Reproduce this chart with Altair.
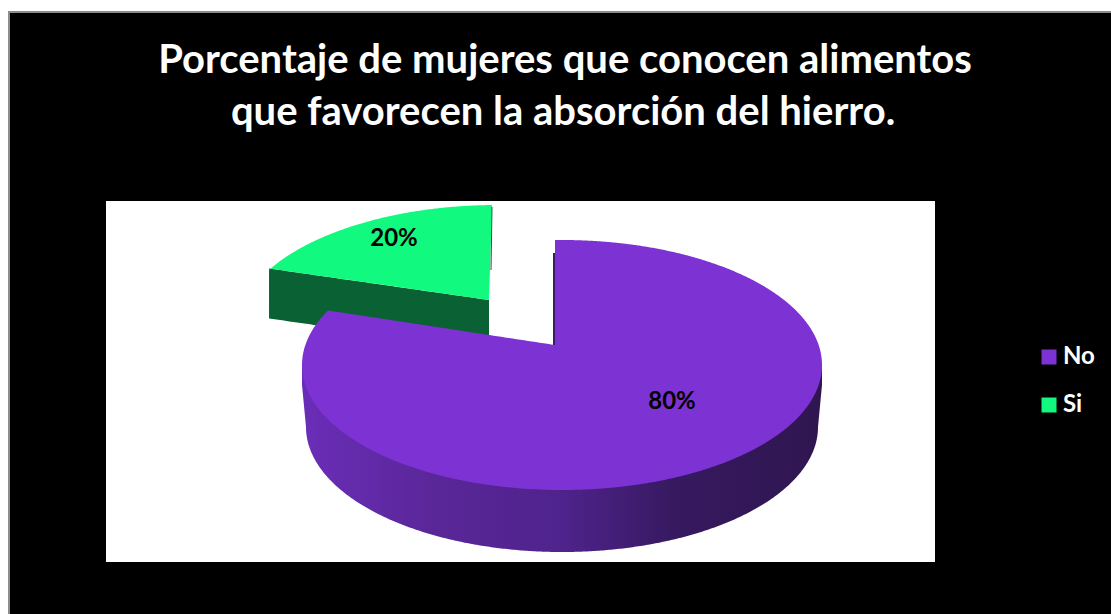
import altair as alt
import numpy as np
import pandas as pd

# Survey result
answers = ["No", "Si"]
shares = [80, 20]
title_lines = [
    "Porcentaje de mujeres que conocen alimentos",
    "que favorecen la absorción del hierro.",
]

W, H = 1111, 614
PURPLE, GREEN = "#7d32d3", "#12f980"
FONT = "Lato"

# Pie geometry: tilted disc with a slightly foreshortened back edge
RX, RY = 260, 125
DEPTH = 62
FORESHORTEN = 0.87
START = np.radians(1.5)


def upper(x, cx, cy):
    return cy - RY * np.sqrt(np.clip(1 - ((x - cx) / RX) ** 2, 0, 1))


def lower(x, cx, cy, rx=RX):
    return cy + RY * np.sqrt(np.clip(1 - ((x - cx) / rx) ** 2, 0, 1))


def sweep(a, b, n=240):
    t = np.linspace(0, np.pi, n)
    return a + (b - a) * (1 - np.cos(t)) / 2


def lerp(x, x0, y0, x1, y1):
    return y0 + (y1 - y0) * (x - x0) / (x1 - x0)


def rim_point(cx, cy, theta):
    return cx - RX * np.sin(theta), cy - RY * np.cos(theta)


def frame(x, y, y2, answer):
    return pd.DataFrame({"x": x, "y": y, "y2": y2, "answer": answer})


# "No" slice: the notch takes the other slice's share out of the disc
no_cx, no_cy, no_ax, no_ay = 562, 365, 555, 345
no_left, no_left_y = rim_point(no_cx, no_cy, START + np.radians(shares[1] * 3.6 * FORESHORTEN))
xs_a = sweep(no_cx - RX, no_left, 40)
xs_b = np.linspace(no_left + 0.01, no_ax, 60)
xs_c = sweep(no_ax + 0.01, no_cx + RX, 320)
no_x = np.concatenate([xs_a, xs_b, xs_c])
no_top = np.concatenate([
    upper(xs_a, no_cx, no_cy),
    lerp(xs_b, no_left, no_left_y, no_ax, no_ay),
    upper(xs_c, no_cx, no_cy),
])
no_face = frame(no_x, no_top, lower(no_x, no_cx, no_cy), answers[0])

# Side wall: slightly narrower lower rim, with short slanted shoulders at both ends
WALL_RX = 256
wall_mid = sweep(no_cx - WALL_RX, no_cx + WALL_RX, 400)
wall_x = np.concatenate([[no_cx - RX], wall_mid, [no_cx + RX]])
wall_bottom = np.concatenate([
    [no_cy + 20],
    lower(wall_mid, no_cx, no_cy + DEPTH, WALL_RX),
    [no_cy + 20],
])
no_wall = frame(wall_x, np.full_like(wall_x, no_cy), wall_bottom, answers[0])

# "Si" slice, pulled out of the pie towards the back left
si_cx, si_cy, si_ax, si_ay = 497, 330, 489, 300
si_left, si_left_y = rim_point(si_cx, si_cy, START + np.radians(shares[1] * 3.6 * FORESHORTEN))
si_left += 6
si_left_y -= 7
si_right, si_right_y = rim_point(si_cx, si_cy, np.radians(1.1))
si_x = sweep(si_left, si_right, 200)
si_bottom = np.where(
    si_x <= si_ax,
    lerp(si_x, si_left, si_left_y, si_ax, si_ay),
    lerp(si_x, si_ax, si_ay, si_right, si_right_y),
)
si_face = frame(si_x, upper(si_x, si_cx, si_cy), si_bottom, answers[1])

si_wall_x = np.linspace(si_left, si_ax, 60)
si_wall_top = lerp(si_wall_x, si_left, si_left_y, si_ax, si_ay)
si_wall = frame(si_wall_x, si_wall_top, si_wall_top + 50, answers[1])

faces = pd.concat([no_face, si_face], ignore_index=True)

x_scale = alt.Scale(domain=[0, W], nice=False, zero=False)
y_scale = alt.Scale(domain=[H, 0], nice=False, zero=False)
X = alt.X("x:Q", scale=x_scale, axis=None)
Y = alt.Y("y:Q", scale=y_scale, axis=None)


def panel(x, x2, y, y2, color):
    return alt.Chart(pd.DataFrame({"p": [0]})).mark_rect(color=color).encode(
        x=alt.value(x), x2=alt.value(x2), y=alt.value(y), y2=alt.value(y2)
    )


si_wall_layer = alt.Chart(si_wall).mark_area(orient="vertical", color="#0a6133").encode(
    x=X, y=Y, y2="y2:Q"
)

no_wall_layer = alt.Chart(no_wall).mark_area(
    orient="vertical",
    color=alt.LinearGradient(
        gradient="linear",
        x1=0, x2=1, y1=0, y2=0,
        stops=[
            alt.GradientStop(color="#6a2db8", offset=0),
            alt.GradientStop(color="#5a2799", offset=0.25),
            alt.GradientStop(color="#4f238c", offset=0.5),
            alt.GradientStop(color="#36195f", offset=0.72),
            alt.GradientStop(color="#2f1650", offset=1),
        ],
    ),
).encode(x=X, y=Y, y2="y2:Q")

face_layer = alt.Chart(faces).mark_area(orient="vertical").encode(
    x=X,
    y=Y,
    y2="y2:Q",
    color=alt.Color(
        "answer:N",
        scale=alt.Scale(domain=answers, range=[PURPLE, GREEN]),
        legend=alt.Legend(
            title=None,
            orient="none",
            legendX=1037,
            legendY=345,
            symbolType="square",
            symbolSize=225,
            symbolStrokeWidth=0,
            symbolOpacity=1,
            labelColor="white",
            labelFont=FONT,
            labelFontWeight="bold",
            labelFontSize=24,
            labelOffset=2,
            rowPadding=24,
        ),
    ),
)

# Thin dark edges where the cut faces catch the shade
edges = pd.DataFrame({
    "x": [no_ax - 1, si_right],
    "x2": [no_ax - 1, si_ax + 2],
    "y": [253, si_right_y + 2],
    "y2": [no_ay, si_ay - 30],
})
no_edge = alt.Chart(edges.iloc[[0]]).mark_rule(color="#3a1a6b", strokeWidth=2).encode(
    x=X, y=Y, x2="x2:Q", y2="y2:Q"
)
si_edge = alt.Chart(edges.iloc[[1]]).mark_rule(color="#0a6133", strokeWidth=1).encode(
    x=X, y=Y, x2="x2:Q", y2="y2:Q"
)

labels = pd.DataFrame({
    "text": [f"{shares[0]}%", f"{shares[1]}%"],
    "x": [672, 394],
    "y": [402, 239],
})
label_layer = alt.Chart(labels).mark_text(
    font=FONT, fontWeight="bold", fontSize=24, color="black", baseline="middle"
).encode(x=X, y=Y, text="text:N")

titles = pd.DataFrame({"text": title_lines, "x": [565, 563], "y": [61, 113]})
title_layer = alt.Chart(titles).mark_text(
    font=FONT, fontWeight="bold", fontSize=40, color="white", baseline="middle"
).encode(x=X, y=Y, text="text:N")

chart = alt.layer(
    panel(8, W, 11, H, "#8c8c8c"),
    panel(10, W, 13, H, "#000000"),
    panel(106, 935, 201, 562, "#ffffff"),
    si_wall_layer,
    no_wall_layer,
    face_layer,
    no_edge,
    si_edge,
    label_layer,
    title_layer,
).properties(
    width=W,
    height=H,
    padding=0,
    autosize=alt.AutoSizeParams(type="none"),
    background="white",
).configure_view(stroke=None)

chart.save("out.html", embed_options={"renderer": "svg", "actions": False})
